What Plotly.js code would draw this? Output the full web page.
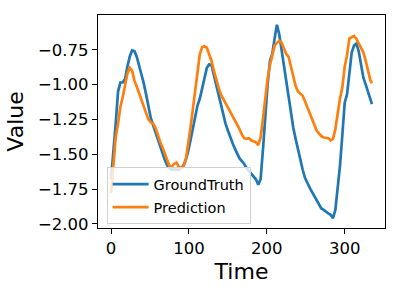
<!DOCTYPE html>
<html>
<head>
<meta charset="utf-8">
<script src="https://cdn.plot.ly/plotly-3.0.1.min.js"></script>
<style>html,body{margin:0;padding:0;background:#fff;}#chart{width:400px;height:300px;}</style>
</head>
<body>
<div id="chart"></div>
<script>
const timeSteps = [0,3,6,9,12,15,18,21,24,27,30,33,36,39,42,45,48,51,54,57,60,63,66,69,72,75,78,81,84,87,90,93,96,99,102,105,108,111,114,117,120,123,126,129,132,135,138,141,144,147,150,153,156,159,162,165,168,171,174,177,180,183,186,189,192,195,198,201,204,207,210,213,216,219,222,225,228,231,234,237,240,243,246,249,252,255,258,261,264,267,270,273,276,279,282,285,288,291,294,297,300,303,306,309,312,315,318,321,324,327,330,333,335];

const groundTruth = [-1.68,-1.50,-1.28,-1.05,-0.985,-0.985,-0.96,-0.87,-0.80,-0.755,-0.76,-0.80,-0.86,-0.93,-0.99,-1.07,-1.16,-1.24,-1.29,-1.34,-1.40,-1.45,-1.50,-1.54,-1.58,-1.60,-1.61,-1.61,-1.61,-1.61,-1.60,-1.58,-1.54,-1.48,-1.40,-1.32,-1.22,-1.15,-1.10,-1.02,-0.95,-0.88,-0.855,-0.86,-0.93,-1.00,-1.08,-1.15,-1.22,-1.28,-1.33,-1.38,-1.42,-1.46,-1.50,-1.53,-1.55,-1.57,-1.60,-1.62,-1.645,-1.66,-1.68,-1.72,-1.68,-1.47,-1.22,-1.00,-0.83,-0.78,-0.67,-0.57,-0.64,-0.75,-0.88,-1.00,-1.10,-1.21,-1.31,-1.39,-1.47,-1.55,-1.61,-1.67,-1.71,-1.74,-1.77,-1.80,-1.84,-1.87,-1.89,-1.90,-1.915,-1.925,-1.935,-1.96,-1.90,-1.76,-1.58,-1.36,-1.13,-1.07,-0.93,-0.77,-0.72,-0.705,-0.76,-0.85,-0.95,-1.00,-1.06,-1.11,-1.14];

const prediction = [-1.78,-1.58,-1.38,-1.28,-1.16,-1.09,-1.00,-0.92,-0.88,-0.90,-0.97,-1.01,-1.06,-1.11,-1.16,-1.21,-1.25,-1.27,-1.28,-1.31,-1.37,-1.41,-1.45,-1.50,-1.55,-1.585,-1.59,-1.57,-1.56,-1.59,-1.60,-1.59,-1.54,-1.44,-1.31,-1.18,-1.04,-0.89,-0.78,-0.73,-0.725,-0.735,-0.78,-0.83,-0.90,-0.97,-1.02,-1.07,-1.10,-1.14,-1.17,-1.20,-1.23,-1.26,-1.29,-1.32,-1.36,-1.385,-1.39,-1.385,-1.40,-1.41,-1.415,-1.435,-1.38,-1.25,-1.10,-0.96,-0.86,-0.79,-0.72,-0.70,-0.685,-0.70,-0.74,-0.78,-0.80,-0.87,-0.96,-1.01,-1.05,-1.065,-1.08,-1.12,-1.16,-1.21,-1.25,-1.29,-1.33,-1.35,-1.37,-1.38,-1.38,-1.385,-1.40,-1.39,-1.32,-1.20,-1.10,-1.02,-0.87,-0.79,-0.67,-0.66,-0.65,-0.67,-0.70,-0.73,-0.77,-0.83,-0.90,-0.97,-0.99];

const seriesNames = ['GroundTruth', 'Prediction'];
const xTicks = [0, 100, 200, 300];
const yTicks = [-2.00, -1.75, -1.50, -1.25, -1.00, -0.75];

const font = 'DejaVu Sans, sans-serif';

const traces = [
  {x: timeSteps, y: groundTruth, name: seriesNames[0], mode: 'lines', legendgroup: 'a',
   line: {color: '#1f77b4', width: 2.7}},
  {x: timeSteps, y: prediction, name: seriesNames[1], mode: 'lines', legendgroup: 'b',
   line: {color: '#ff7f0e', width: 2.7}}
];

const axisCommon = {
  showgrid: false, zeroline: false, showline: true, mirror: true,
  linecolor: '#000', linewidth: 1.2, ticks: 'outside', ticklen: 5, tickwidth: 1,
  tickcolor: '#000', tickfont: {family: font, size: 16.5, color: '#000'}
};

const layout = {
  width: 400, height: 300,
  margin: {l: 98, r: 15, t: 15, b: 72},
  paper_bgcolor: '#fff', plot_bgcolor: '#fff',
  showlegend: true,
  xaxis: Object.assign({}, axisCommon, {
    range: [-16.75, 351.75], tickvals: xTicks, ticktext: xTicks.map(String),
    title: {text: 'Time', font: {family: font, size: 22, color: '#000'}, standoff: 6}
  }),
  yaxis: Object.assign({}, axisCommon, {
    range: [-2.03, -0.50], tickvals: yTicks, tickformat: '.2f',
    title: {text: 'Value', font: {family: font, size: 22, color: '#000'}, standoff: 8}
  }),
  legend: {
    x: 0.03, y: 0.285, xanchor: 'left', yanchor: 'top',
    bgcolor: 'rgba(255,255,255,0.8)', bordercolor: '#d0d0d0', borderwidth: 1,
    font: {family: font, size: 14.5, color: '#000'},
    itemwidth: 36, traceorder: 'grouped', tracegroupgap: 1
  }
};

Plotly.newPlot('chart', traces, layout, {displayModeBar: false, staticPlot: true});
</script>
</body>
</html>
